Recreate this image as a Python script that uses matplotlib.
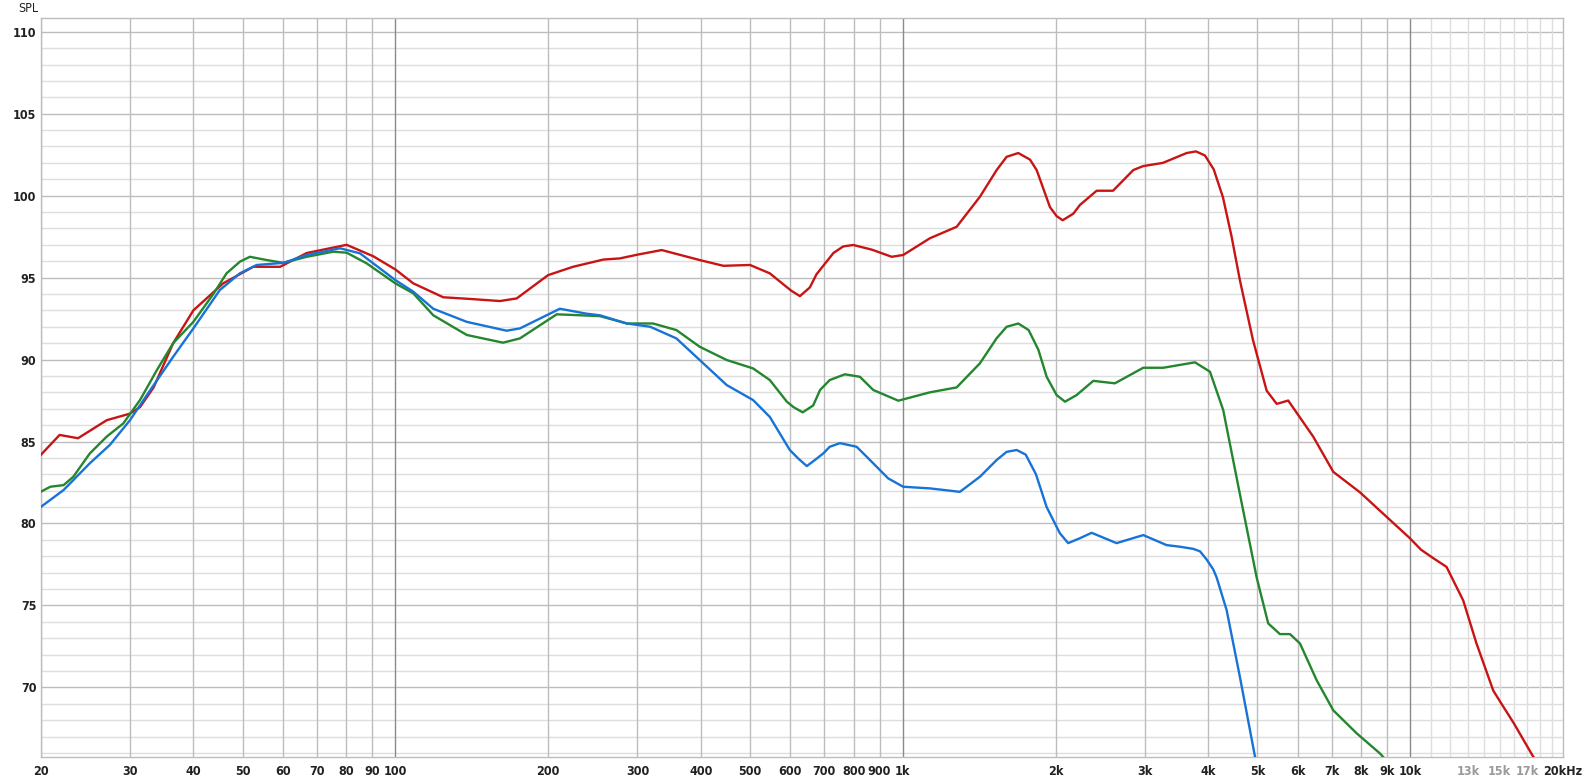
import matplotlib
matplotlib.use("Agg")
import matplotlib.pyplot as plt
from matplotlib.ticker import NullFormatter, NullLocator

# ---------------- data ----------------
red_f = [20, 21.8, 23.7, 27.0, 30.0, 31.4, 33.4, 36.5, 40.0, 45.8, 52.5, 59.3, 66.9,
         80.2, 90.5, 100, 108.5, 124.3, 140, 160.8, 173.5, 200, 224, 257, 277, 300,
         335, 398, 443, 500, 547, 581, 603, 627, 656, 676, 730, 763, 799, 870, 951, 1002, 1131, 1277,
         1419, 1531, 1602, 1689, 1781, 1836, 1950, 2010, 2066, 2168, 2234, 2410, 2596, 2846, 2974, 3256,
         3626, 3782, 3940, 4100, 4275, 4446, 4616, 4898, 5213, 5455, 5536, 5748, 6438, 7052, 7960, 8986,
         9984, 10500, 11080, 11790, 12718, 13500, 14576, 15200, 16008, 17472, 18500]
red_db = [84.17, 85.4, 85.2, 86.3, 86.7, 87.1, 88.3, 91.0, 93.0, 94.65, 95.66, 95.66, 96.5,
          97.0, 96.3, 95.5, 94.65, 93.8, 93.7, 93.57, 93.73, 95.15, 95.66, 96.1, 96.17, 96.4,
          96.68, 96.07, 95.72, 95.77, 95.26, 94.6, 94.2, 93.87, 94.4, 95.2, 96.5, 96.9, 96.99, 96.7, 96.27, 96.38, 97.4, 98.1,
          99.93, 101.56, 102.37, 102.6, 102.2, 101.56, 99.3, 98.75, 98.5, 98.9, 99.43, 100.3, 100.3, 101.56, 101.8, 102.0,
          102.6, 102.7, 102.45, 101.6, 99.9, 97.5, 94.85, 91.2, 88.1, 87.3, 87.35, 87.5, 85.3, 83.15, 81.9, 80.4,
          79.1, 78.4, 77.9, 77.35, 75.3, 72.7, 69.8, 68.9, 67.8, 65.77, 64.9]

green_f = [20, 20.9, 22.2, 23.2, 25.0, 27.0, 29.1, 31.4, 33.9, 36.5, 40.0, 43.8, 46.5, 49.4,
           51.7, 55.8, 60.2, 66.9, 75.5, 80.2, 87.8, 100, 108.5, 118.8, 138.3, 163, 176, 208,
           224, 253, 286, 322, 358, 398, 450, 507, 547, 591, 609, 635, 666, 687, 718, 769, 823, 875, 980, 1131,
           1277, 1419, 1531, 1602, 1689, 1770, 1850, 1921, 2010, 2088, 2200, 2374, 2618, 2978, 3261, 3765, 4030, 4280,
           4616, 4982, 5250, 5536, 5795, 6063, 6539, 7052, 7840, 8716, 9300]
green_db = [81.93, 82.24, 82.34, 82.85, 84.27, 85.3, 86.1, 87.53, 89.36, 91.0, 92.3, 94.0, 95.26, 95.97,
            96.27, 96.07, 95.9, 96.27, 96.58, 96.52, 95.87, 94.65, 94.04, 92.7, 91.5, 91.03, 91.29, 92.76,
            92.72, 92.65, 92.2, 92.2, 91.8, 90.78, 89.97, 89.46, 88.75, 87.43, 87.1, 86.78, 87.2, 88.14, 88.75, 89.1, 88.95,
            88.14, 87.49, 88.0,
            88.3, 89.77, 91.3, 92.0, 92.2, 91.8, 90.6, 88.95, 87.83, 87.43, 87.83, 88.7, 88.55, 89.5, 89.5, 89.83, 89.26, 86.92,
            81.8, 76.7, 73.9, 73.25, 73.25, 72.68, 70.44, 68.6, 67.2, 65.97, 65.0]

blue_f = [20, 22.2, 25.0, 27.4, 30, 32.9, 36.5, 40.0, 45.1, 49.4, 53.3, 60.2, 66.9, 77.8, 85.2,
          100, 108.5, 118.8, 138.3, 165.7, 176, 211, 238, 253, 286, 318, 358, 398, 450, 507,
          547, 599, 622, 647, 671, 697, 718, 752, 811, 849, 936, 1002, 1131, 1296, 1419, 1531, 1602, 1677,
          1747, 1830, 1921, 2040, 2118, 2234, 2356, 2638, 2978, 3310, 3518, 3736, 3852, 3970, 4090,
          4155, 4348, 4616, 4944, 5150]
blue_db = [81.0, 82.04, 83.67, 84.8, 86.3, 88.14, 90.17, 91.9, 94.24, 95.26, 95.77, 95.9, 96.38, 96.79, 96.48,
           94.85, 94.14, 93.1, 92.3, 91.76, 91.9, 93.1, 92.8, 92.7, 92.2, 92.0, 91.29, 89.97, 88.44, 87.53,
           86.5, 84.48, 83.97, 83.5, 83.87, 84.27, 84.68, 84.9, 84.68, 84.07, 82.75, 82.24, 82.14, 81.93, 82.85,
           83.87, 84.37, 84.48, 84.2, 83.0, 81.0, 79.4, 78.8, 79.1, 79.43, 78.8, 79.29, 78.68, 78.58, 78.45, 78.3,
           77.8, 77.2, 76.7, 74.7, 70.65, 65.77, 64.5]

x_ticks = [20, 30, 40, 50, 60, 70, 80, 90, 100, 200, 300, 400, 500, 600, 700, 800, 900,
           1000, 2000, 3000, 4000, 5000, 6000, 7000, 8000, 9000, 10000, 13000, 15000, 17000, 20000]
x_labels = ["20", "30", "40", "50", "60", "70", "80", "90", "100", "200", "300", "400", "500",
            "600", "700", "800", "900", "1k", "2k", "3k", "4k", "5k", "6k", "7k", "8k", "9k",
            "10k", "13k", "15k", "17k", "20kHz"]
y_ticks = [70, 75, 80, 85, 90, 95, 100, 105, 110]

# ---------------- figure ----------------
W, H = 1583, 780
fig = plt.figure(figsize=(W / 100, H / 100), dpi=100)
left, right, top, bottom = 40.6, 1563.0, 18.3, 756.7
ax = fig.add_axes([left / W, 1 - bottom / H, (right - left) / W, (bottom - top) / H])
ax.set_xscale("log")
ax.set_xlim(20, 20000)
ax.set_ylim(65.77, 110.82)

# grid
for d in range(66, 111):
    ax.axhline(d, color="#bdbdbd" if d % 5 == 0 else "#dedede", lw=1.0, zorder=0)
for dec in (10, 100, 1000):
    for m in range(2, 10):
        v = dec * m
        if v < 20:
            continue
        ax.axvline(v, color="#bdbdbd", lw=1.0, zorder=0)
for v in (100, 1000, 10000):
    ax.axvline(v, color="#8a8a8a", lw=1.0, zorder=0)
for m in range(11, 20):
    ax.axvline(m * 1000, color="#dedede", lw=1.0, zorder=0)

for s in ax.spines.values():
    s.set_color("#bdbdbd")
    s.set_linewidth(1.0)

kw = dict(lw=1.7, zorder=3, solid_joinstyle="round", solid_capstyle="round", antialiased=True)
ax.plot(red_f, red_db, color="#c81414", **kw)
ax.plot(green_f, green_db, color="#24862e", **kw)
ax.plot(blue_f, blue_db, color="#1773d6", **kw)

font = dict(family="DejaVu Sans", stretch="condensed", weight="bold", size=9)
ax.set_xticks(x_ticks)
ax.xaxis.set_minor_locator(NullLocator())
ax.xaxis.set_minor_formatter(NullFormatter())
ax.set_xticklabels(x_labels, **font)
for lbl, t in zip(ax.get_xticklabels(), x_ticks):
    lbl.set_color("#9a9a9a" if t in (13000, 15000, 17000) else "#222222")
ax.set_yticks(y_ticks)
ax.set_yticklabels([str(v) for v in y_ticks], **font, color="#222222")
ax.tick_params(axis="x", length=0, pad=6)
ax.tick_params(axis="y", length=0, pad=3)

fig.text(28.5 / W, 1 - 8 / H, "SPL", ha="center", va="center", color="#222222",
         family="DejaVu Sans", stretch="condensed", size=9)

fig.savefig("out.png", dpi=100)
